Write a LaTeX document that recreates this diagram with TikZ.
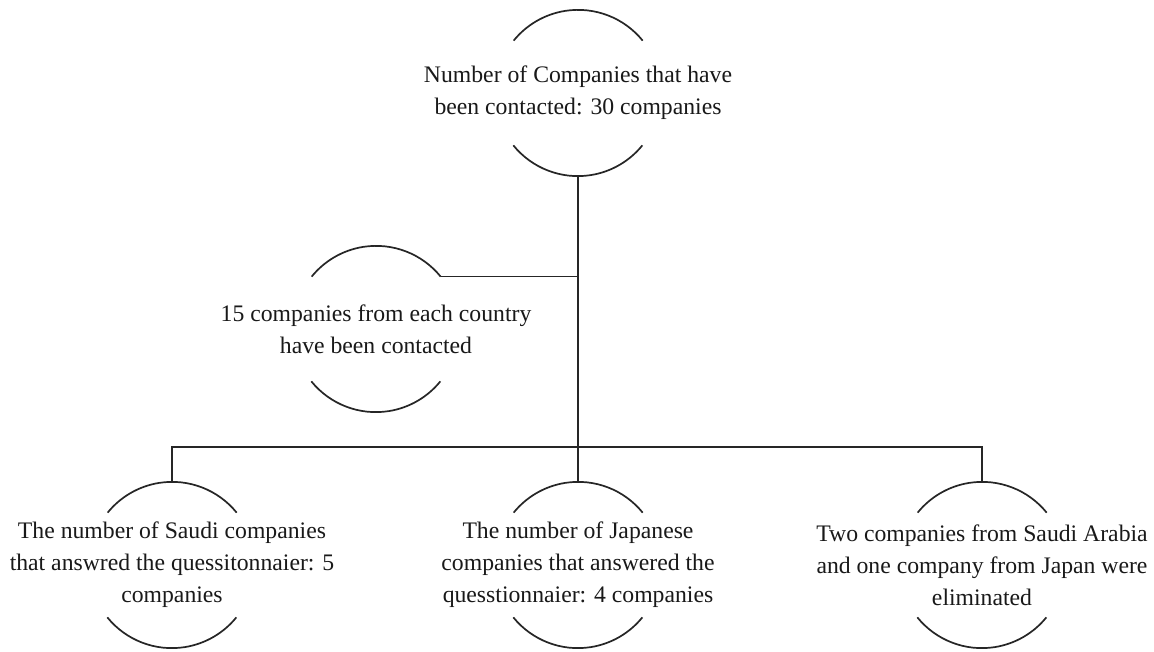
\documentclass[tikz,border=0pt]{standalone}
\usepackage{fontspec}
\setmainfont{Liberation Serif}
% two open arcs (top and bottom) round a ring node
\newcommand\bowlsround[1]{%
  \draw[link] (#1.39) arc[start angle=39,end angle=141,radius=83pt];
  \draw[link] (#1.219) arc[start angle=219,end angle=321,radius=83pt];}
\begin{document}
\begin{tikzpicture}[x=1pt,y=1pt,
  ring/.style={circle, minimum size=166pt, inner sep=0pt},
  caption/.style={align=center, inner sep=0pt, text=black!90,
    font=\fontsize{23.7}{32}\selectfont},
  link/.style={line width=1.7pt, black!85}]
\path[use as bounding box, fill=white] (0,0) rectangle (1154,651);

% rings
\node[ring] (total)  at (578,558) {};
\node[ring] (split)  at (376,322) {};
\node[ring] (saudi)  at (172,86) {};
\node[ring] (japan)  at (578,86) {};
\node[ring] (drop)   at (982,86) {};

\bowlsround{total}
\bowlsround{split}
\bowlsround{saudi}
\bowlsround{japan}
\bowlsround{drop}

% captions
\node[caption] (totaltxt) at (total) {Number of Companies that have\\been contacted: 30 companies};
\node[caption] (splittxt) at (split) {15 companies from each country\\have been contacted};
\node[caption] (saudittxt) at (saudi) {The number of Saudi companies\\that answred the quessitonnaier: 5\\companies};
\node[caption] (japantxt) at (japan) {The number of Japanese\\companies that answered the\\quesstionnaier: 4 companies};
\node[caption] (droptxt) at (drop) {Two companies from Saudi Arabia\\and one company from Japan were\\eliminated};

% connectors
\coordinate (bus) at (578,204);
\draw[link] (total.south) -- (japan.north);
\draw[link] (split.39) -- (split.39 -| total.south);
\draw[link] (saudi.north) |- (bus) -| (drop.north);
\end{tikzpicture}
\end{document}
